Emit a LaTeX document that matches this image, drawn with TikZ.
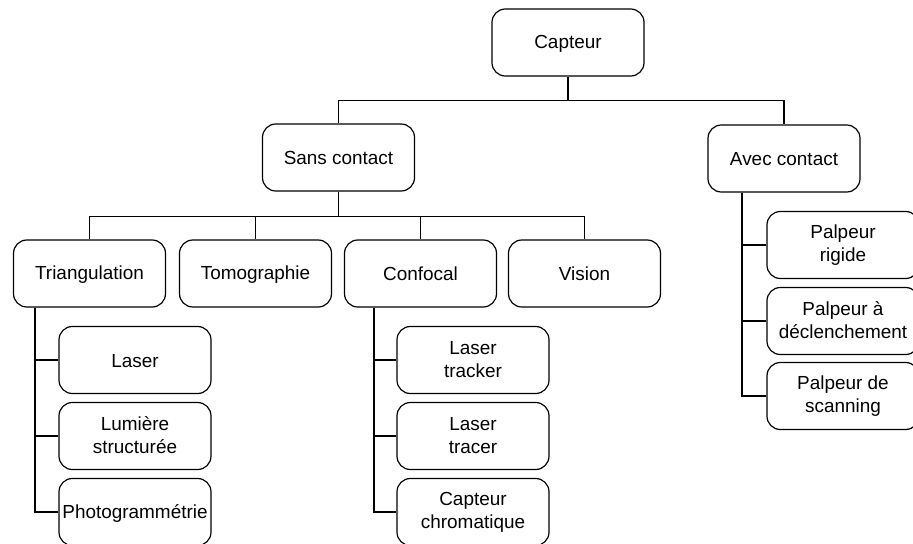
\documentclass[tikz,border=0pt]{standalone}
\usepackage{fontspec}
\setmainfont{Liberation Sans}
\newcommand{\cellstrut}{\rule[-1pt]{0pt}{13pt}}
\tikzset{
    cell/.style={draw, line width=0.9pt, rounded corners=10pt, fill=white,
        minimum width=114pt, minimum height=50.25pt, inner sep=0pt, align=center,
        font=\fontsize{14.2}{17.3}\selectfont,
        execute at begin node=\cellstrut, execute at end node=\cellstrut},
    link/.style={line width=0.9pt}
}
\begin{document}
\begin{tikzpicture}[x=0.75pt, y=-0.75pt]
        \clip (0,0) rectangle (913,543);

        % root and first level
        \node[cell] (capteur) at (568, 42.5) {Capteur};
        \node[cell] (sans) at (338.5, 157.5) {Sans contact};
        \node[cell] (avec) at (784, 158.5) {Avec contact};

        \draw[link] (capteur.south) -- ++(0,24) -| (sans.north);
        \draw[link] (capteur.south) -- ++(0,24) -| (avec.north);

        % sans contact
        \node[cell] (tri) at (89.5, 273.5) {Triangulation};
        \node[cell] (tomo) at (255.5, 273.5) {Tomographie};
        \node[cell] (conf) at (420.5, 273.5) {Confocal};
        \node[cell] (vision) at (584.5, 273.5) {Vision};

        \draw[link] (sans.south) -- ++(0,25) -| (tri.north);
        \draw[link] (sans.south) -- ++(0,25) -| (tomo.north);
        \draw[link] (sans.south) -- ++(0,25) -| (conf.north);
        \draw[link] (sans.south) -- ++(0,25) -| (vision.north);

        % triangulation
        \node[cell] (laser) at (135, 360) {Laser};
        \node[cell] (lumiere) at (135, 436) {Lumière\\structurée};
        \node[cell] (photo) at (135, 512) {Photogrammétrie};

        \coordinate (trileg) at ([xshift=16.5pt]tri.south west);
        \draw[link] (trileg) |- (laser.west);
        \draw[link] (trileg) |- (lumiere.west);
        \draw[link] (trileg) |- (photo.west);

        % confocal
        \node[cell] (tracker) at (473, 360) {Laser\\tracker};
        \node[cell] (tracer) at (473, 436) {Laser\\tracer};
        \node[cell] (chroma) at (473, 512) {Capteur\\chromatique};

        \coordinate (confleg) at ([xshift=22.5pt]conf.south west);
        \draw[link] (confleg) |- (tracker.west);
        \draw[link] (confleg) |- (tracer.west);
        \draw[link] (confleg) |- (chroma.west);

        % avec contact
        \node[cell] (rigide) at (843, 245) {Palpeur\\rigide};
        \node[cell] (declench) at (843, 321) {Palpeur à\\déclenchement};
        \node[cell] (scanning) at (843, 396) {Palpeur de\\scanning};

        \coordinate (avecleg) at ([xshift=26pt]avec.south west);
        \draw[link] (avecleg) |- (rigide.west);
        \draw[link] (avecleg) |- (declench.west);
        \draw[link] (avecleg) |- (scanning.west);

    \end{tikzpicture}
\end{document}
